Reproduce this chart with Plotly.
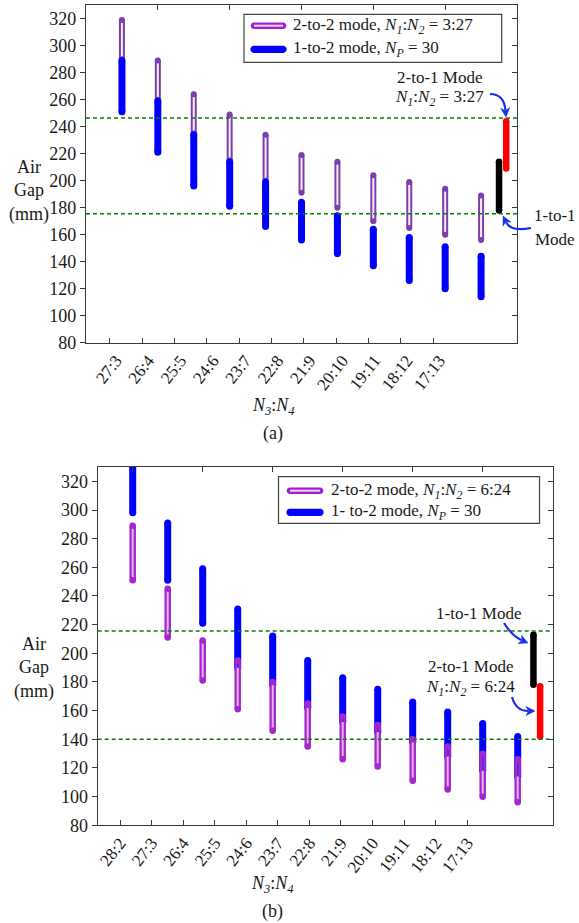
import math
import plotly.graph_objects as go

W, H = 579, 923
FONT = "Times New Roman, Liberation Serif, Tinos, DejaVu Serif, serif"
TXT = "#1a1a1a"

# ---------------- data ----------------
cats_a = ["27:3", "26:4", "25:5", "24:6", "23:7", "22:8", "21:9", "20:10", "19:11", "18:12", "17:13"]
purple_a_top = [319, 289, 264, 249, 234, 219, 214, 204, 199, 194, 189]
purple_a_bot = [290, 260, 235, 215, 200, 191, 180, 170, 165, 160, 156]
blue_a_top = [289, 259, 234, 214, 199, 184, 174, 164, 158, 151, 144]
blue_a_bot = [251, 221, 196, 181, 166, 156, 146, 137, 126, 120, 114]
one_to_one_a = [178, 214]
two_to_one_a = [209, 244]
ref_lines_a = [246.5, 175.5]

cats_b = ["28:2", "27:3", "26:4", "25:5", "24:6", "23:7", "22:8", "21:9", "20:10", "19:11", "18:12", "17:13"]
blue_b_top = [335, 291, 259, 231, 212, 195, 183, 175, 166, 159, 151, 142]
blue_b_bot = [298, 251, 221, 190, 178, 162, 152, 145, 138, 128, 118, 114]
purple_b_top = [289, 245, 209, 195, 180, 165, 156, 150, 140, 135, 130, 126]
purple_b_bot = [251, 211, 181, 161, 146, 135, 126, 121, 111, 105, 100, 96]
one_to_one_b = [178, 213]
two_to_one_b = [142, 177]
ref_lines_b = [215.5, 140]

y_ticks = [80, 100, 120, 140, 160, 180, 200, 220, 240, 260, 280, 300, 320]


def px(x):
    return x / W


def py(y):
    return 1 - y / H


def segs(xs, tops, bots):
    X, Y = [], []
    for x, t, b in zip(xs, tops, bots):
        X += [x, x, None]
        Y += [t, b, None]
    return X, Y


def ends(xs, tops, bots):
    X, Y = [], []
    for x, t, b in zip(xs, tops, bots):
        X += [x, x]
        Y += [t, b]
    return X, Y


fig = go.Figure()


def add_bar(xs, tops, bots, color, width, xa, ya):
    X, Y = segs(xs, tops, bots)
    fig.add_trace(go.Scatter(x=X, y=Y, mode="lines", line=dict(color=color, width=width),
                             xaxis=xa, yaxis=ya, showlegend=False, hoverinfo="skip"))
    X, Y = ends(xs, tops, bots)
    fig.add_trace(go.Scatter(x=X, y=Y, mode="markers", marker=dict(color=color, size=width, line=dict(width=0)),
                             xaxis=xa, yaxis=ya, showlegend=False, hoverinfo="skip"))


def add_capsule(xs, tops, bots, outer, inner, xa, ya, wo=6, wi=2, through=None):
    X, Y = segs(xs, tops, bots)
    fig.add_trace(go.Scatter(x=X, y=Y, mode="lines", line=dict(color=outer, width=wo),
                             xaxis=xa, yaxis=ya, showlegend=False, hoverinfo="skip"))
    fig.add_trace(go.Scatter(x=X, y=Y, mode="lines", line=dict(color=inner, width=wi),
                             xaxis=xa, yaxis=ya, showlegend=False, hoverinfo="skip"))
    if through is not None:
        tx, tt, tb, col = through
        X2, Y2 = segs(tx, tt, tb)
        fig.add_trace(go.Scatter(x=X2, y=Y2, mode="lines", line=dict(color=col, width=wi + 0.5),
                                 xaxis=xa, yaxis=ya, showlegend=False, hoverinfo="skip"))
    X, Y = ends(xs, tops, bots)
    fig.add_trace(go.Scatter(x=X, y=Y, mode="markers", marker=dict(color=outer, size=wo, line=dict(width=0)),
                             xaxis=xa, yaxis=ya, showlegend=False, hoverinfo="skip"))


# ---------------- panel (a) ----------------
xa_pos = list(range(1, len(cats_a) + 1))
add_capsule(xa_pos, purple_a_top, purple_a_bot, "#7d3fae", "#f7f0fb", "x", "y")
add_bar(xa_pos, blue_a_top, blue_a_bot, "#0000ff", 7, "x", "y")
add_bar([11.5], [one_to_one_a[1]], [one_to_one_a[0]], "#000000", 6.5, "x", "y")
add_bar([11.7], [two_to_one_a[1]], [two_to_one_a[0]], "#ff0000", 6.5, "x", "y")

# ---------------- panel (b) ----------------
xb_pos = list(range(1, len(cats_b) + 1))
add_bar(xb_pos, blue_b_top, blue_b_bot, "#0000ff", 7, "x3", "y3")
thr_x, thr_t, thr_b = [], [], []
for x, pt, bb, pb in zip(xb_pos, purple_b_top, blue_b_bot, purple_b_bot):
    if bb < pt:
        thr_x.append(x)
        thr_t.append(pt)
        thr_b.append(max(bb, pb))
add_capsule(xb_pos, purple_b_top, purple_b_bot, "#a526cc", "#e6b3f2", "x3", "y3", wo=6.5, wi=2,
            through=(thr_x, thr_t, thr_b, "#6a22d8"))
add_bar([12.45], [one_to_one_b[1]], [one_to_one_b[0]], "#000000", 6.5, "x3", "y3")
add_bar([12.64], [two_to_one_b[1]], [two_to_one_b[0]], "#ff0000", 6.5, "x3", "y3")

# dummy traces for overlay axes
for xa, ya in [("x2", "y"), ("x", "y2"), ("x4", "y3"), ("x3", "y4")]:
    fig.add_trace(go.Scatter(x=[None], y=[None], xaxis=xa, yaxis=ya, showlegend=False, hoverinfo="skip"))

AX = "#3a3a3a"
tickfont = dict(family=FONT, size=18, color=TXT)

dom_a_x = [px(86), px(517)]
dom_a_y = [py(342.7), py(5.2)]
dom_b_x = [px(97.7), px(552.7)]
dom_b_y = [py(825.3), py(467.0)]

lab_a = [0.667 + 0.9 * k for k in range(len(cats_a))]
lab_b = [0.637 + 0.902 * k for k in range(len(cats_b))]

common_x = dict(showgrid=False, zeroline=False, showline=True, linecolor=AX, linewidth=1.2,
                automargin=False, tickcolor=AX, fixedrange=True)
common_y = dict(showgrid=False, zeroline=False, showline=True, linecolor=AX, linewidth=1.2,
                automargin=False, tickcolor=AX, range=[80, 330], tickvals=y_ticks, fixedrange=True)

fig.update_layout(
    width=W, height=H, margin=dict(l=0, r=0, t=0, b=0),
    font=dict(family=FONT, color=TXT),
    paper_bgcolor="white", plot_bgcolor="white", showlegend=False,
    xaxis=dict(**common_x, domain=dom_a_x, range=[0, 12], anchor="y", tickmode="array",
               tickvals=lab_a, ticktext=cats_a, ticks="inside", ticklen=5, tickangle=-52,
               ticklabelshift=6, tickfont=dict(family=FONT, size=17, color=TXT)),
    xaxis2=dict(**common_x, domain=dom_a_x, range=[0, 12], anchor="y", overlaying="x", side="top",
                tickvals=[2, 4, 6, 8, 10], ticks="inside", ticklen=5, showticklabels=False),
    yaxis=dict(**common_y, domain=dom_a_y, anchor="x", ticks="outside", ticklen=5, tickfont=tickfont),
    yaxis2=dict(**common_y, domain=dom_a_y, anchor="x", overlaying="y", side="right",
                ticks="inside", ticklen=5, showticklabels=False),
    xaxis3=dict(**common_x, domain=dom_b_x, range=[0, 13], anchor="y3", tickmode="array",
                tickvals=lab_b, ticktext=cats_b, ticks="inside", ticklen=5, tickangle=-52,
                tickfont=dict(family=FONT, size=17, color=TXT)),
    xaxis4=dict(**common_x, domain=dom_b_x, range=[0, 13], anchor="y3", overlaying="x3", side="top",
                tickvals=[1, 3, 5, 7, 9, 11], ticks="inside", ticklen=5, showticklabels=False),
    yaxis3=dict(**common_y, domain=dom_b_y, anchor="x3", ticks="outside", ticklen=5, tickfont=tickfont),
    yaxis4=dict(**common_y, domain=dom_b_y, anchor="x3", overlaying="y3", side="right",
                ticks="inside", ticklen=5, showticklabels=False),
)

shapes = []
annos = []

for v in ref_lines_a:
    shapes.append(dict(type="line", xref="x domain", yref="y", x0=0, x1=1, y0=v, y1=v,
                       line=dict(color="#0b7a0b", width=1.5, dash="4px,3px"), layer="above"))
for v in ref_lines_b:
    shapes.append(dict(type="line", xref="x3 domain", yref="y3", x0=0, x1=1, y0=v, y1=v,
                       line=dict(color="#0b7a0b", width=1.5, dash="4px,3px"), layer="above"))


def capsule_path(x0, x1, y, r):
    k = 1.33 * r
    return (f"M {px(x0)},{py(y - r)} L {px(x1)},{py(y - r)} "
            f"C {px(x1 + k)},{py(y - r)} {px(x1 + k)},{py(y + r)} {px(x1)},{py(y + r)} "
            f"L {px(x0)},{py(y + r)} "
            f"C {px(x0 - k)},{py(y + r)} {px(x0 - k)},{py(y - r)} {px(x0)},{py(y - r)} Z")


def legend(box, icon_x, rows, text_x, purple, inner, texts):
    x0, y0, x1, y1 = box
    shapes.append(dict(type="rect", xref="paper", yref="paper", x0=px(x0), x1=px(x1), y0=py(y1), y1=py(y0),
                       line=dict(color="#444444", width=1.2), fillcolor="white", layer="above"))
    ix0, ix1 = icon_x
    shapes.append(dict(type="path", xref="paper", yref="paper", path=capsule_path(ix0, ix1, rows[0], 3.3),
                       fillcolor=purple, line=dict(width=0), layer="above"))
    shapes.append(dict(type="line", xref="paper", yref="paper", x0=px(ix0), x1=px(ix1), y0=py(rows[0]),
                       y1=py(rows[0]), line=dict(color=inner, width=2), layer="above"))
    shapes.append(dict(type="path", xref="paper", yref="paper", path=capsule_path(ix0, ix1, rows[1], 3.6),
                       fillcolor="#0000ff", line=dict(width=0), layer="above"))
    for t, r in zip(texts, rows):
        annos.append(dict(xref="paper", yref="paper", x=px(text_x), y=py(r), text=t, showarrow=False,
                          xanchor="left", yanchor="middle", font=dict(family=FONT, size=17, color=TXT)))


N12 = "<i>N<sub>1</sub></i>:<i>N<sub>2</sub></i>"
NP = "<i>N<sub>P</sub></i>"
legend((244, 14.3, 501.7, 62.3), (254, 283), (25.7, 49.3), 291,
       "#a020d0", "#f3d3fa",
       [f"2-to-2 mode, {N12} = 3:27", f"1-to-2 mode, {NP} = 30"])
legend((278.5, 476.7, 539.5, 523.3), (290, 320), (490.7, 512.3), 329,
       "#a020d0", "#f3d3fa",
       [f"2-to-2 mode, {N12} = 6:24", f"1- to-2 mode, {NP} = 30"])


def arrow(p0, c, tip, color="#1530e8"):
    dx, dy = tip[0] - c[0], tip[1] - c[1]
    L = math.hypot(dx, dy)
    dx, dy = dx / L, dy / L
    hl, hw = 9, 4.5
    bx, by = tip[0] - dx * hl, tip[1] - dy * hl
    nx, ny = -dy, dx
    shapes.append(dict(type="path", xref="paper", yref="paper",
                       path=f"M {px(p0[0])},{py(p0[1])} Q {px(c[0])},{py(c[1])} {px(bx + dx * 2)},{py(by + dy * 2)}",
                       line=dict(color=color, width=2.2), layer="above"))
    shapes.append(dict(type="path", xref="paper", yref="paper",
                       path=(f"M {px(tip[0])},{py(tip[1])} L {px(bx + nx * hw)},{py(by + ny * hw)} "
                             f"L {px(bx + dx * 2.5)},{py(by + dy * 2.5)} "
                             f"L {px(bx - nx * hw)},{py(by - ny * hw)} Z"),
                       fillcolor=color, line=dict(color=color, width=0.5), layer="above"))


def text(x, y, t, size=17):
    annos.append(dict(xref="paper", yref="paper", x=px(x), y=py(y), text=t, showarrow=False,
                      xanchor="center", yanchor="middle", font=dict(family=FONT, size=size, color=TXT)))


# panel (a) annotations
text(439, 77.5, "2-to-1 Mode")
text(439, 98.5, f"{N12} = 3:27")
arrow((490, 94), (504, 94), (506, 117))
text(555, 216, "1-to-1")
text(555, 239, "Mode")
arrow((531, 228), (511, 232), (503, 216))
text(29, 190.7, "Air<br>Gap<br>(mm)", size=18)
text(273, 406.7, "<i>N<sub>3</sub></i>:<i>N<sub>4</sub></i>", size=18)
text(273, 433.3, "(a)", size=18)

# panel (b) annotations
text(478, 613, "1-to-1 Mode")
arrow((504, 623), (512, 636), (528, 643))
text(470, 666, "2-to-1 Mode")
text(470, 688, f"{N12} = 6:24")
arrow((512, 697), (516, 711), (535, 711))
text(34, 668.3, "Air<br>Gap<br>(mm)", size=18)
text(272.5, 884, "<i>N<sub>3</sub></i>:<i>N<sub>4</sub></i>", size=18)
text(272.5, 911.7, "(b)", size=18)

fig.update_layout(shapes=shapes, annotations=annos)
fig.write_html("out.html")
